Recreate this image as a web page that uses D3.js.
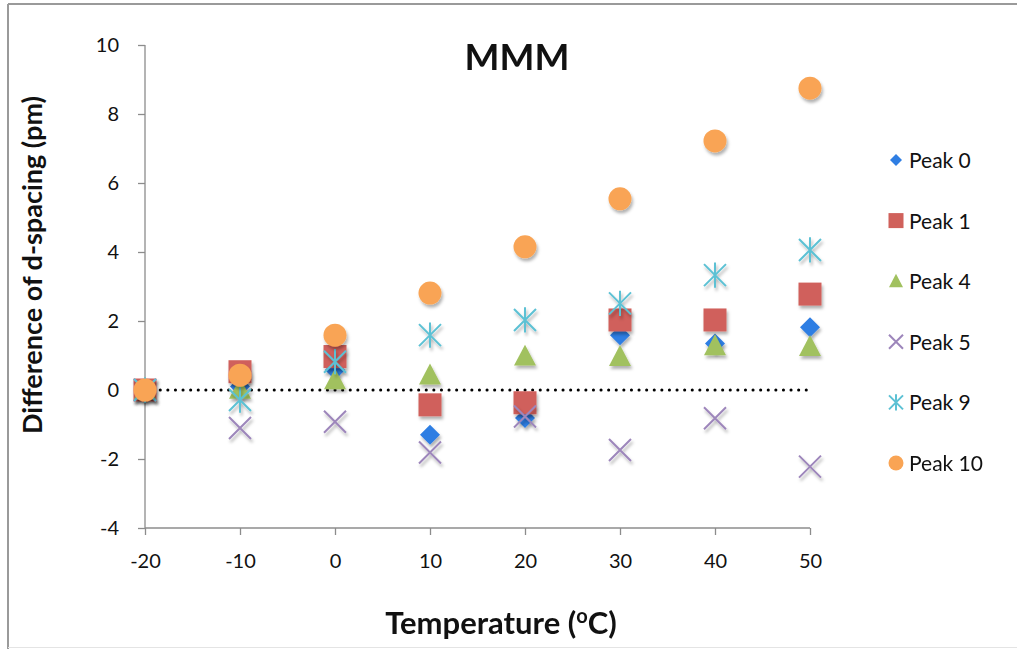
<!DOCTYPE html>
<html>
<head>
<meta charset="utf-8">
<script src="https://cdn.jsdelivr.net/npm/d3@7"></script>
<style>
  html, body { margin: 0; padding: 0; background: #fff; }
  svg { display: block; }
  text { font-family: Lato, "Open Sans", sans-serif; fill: #111; }
</style>
</head>
<body>
<svg id="chart" width="1017" height="649"></svg>
<script>
// ---- data ----
const temperatures = [-20, -10, 0, 10, 20, 30, 40, 50];
const peak0  = [0, 0.10, 0.58, -1.30, -0.81, 1.59, 1.35, 1.82];
const peak1  = [0, 0.53, 0.97, -0.43, -0.37, 2.03, 2.03, 2.78];
const peak4  = [0, 0.02, 0.29, 0.43, 0.98, 0.97, 1.28, 1.26];
const peak5  = [0, -1.10, -0.92, -1.81, -0.77, -1.74, -0.82, -2.22];
const peak9  = [0, -0.29, 0.82, 1.59, 2.03, 2.51, 3.33, 4.06];
const peak10 = [0, 0.43, 1.59, 2.81, 4.15, 5.54, 7.22, 8.75];
const seriesNames = ["Peak 0", "Peak 1", "Peak 4", "Peak 5", "Peak 9", "Peak 10"];
const seriesValues = [peak0, peak1, peak4, peak5, peak9, peak10];
const seriesShapes = ["diamond", "square", "triangle", "x", "star", "circle"];
const seriesColors = ["#2f7ee3", "#d0615b", "#a1c15f", "#9d86bb", "#5cc1d4", "#f9a454"];
const xTicks = [-20, -10, 0, 10, 20, 30, 40, 50];
const yTicks = [-4, -2, 0, 2, 4, 6, 8, 10];
const zeroLine = [[-20, 0], [50, 0]];

// ---- layout ----
const svg = d3.select("#chart");
const x = d3.scaleLinear().domain([-20, 50]).range([145, 810]);
const y = d3.scaleLinear().domain([-4, 10]).range([528, 45]);
const fmt = d => String(d); // plain hyphen-minus like the reference

// outer frame
svg.append("line").attr("x1", 8).attr("x2", 1017).attr("y1", 4).attr("y2", 4)
  .attr("stroke", "#9a9a9a").attr("stroke-width", 2);
svg.append("line").attr("x1", 8).attr("x2", 8).attr("y1", 4).attr("y2", 649)
  .attr("stroke", "#9a9a9a").attr("stroke-width", 2);
svg.append("line").attr("x1", 8).attr("x2", 1017).attr("y1", 647.5).attr("y2", 647.5)
  .attr("stroke", "#e4e4e4").attr("stroke-width", 1);

// drop shadow
const defs = svg.append("defs");
const f = defs.append("filter").attr("id", "shadow").attr("x", "-50%").attr("y", "-50%")
  .attr("width", "200%").attr("height", "200%");
f.append("feDropShadow").attr("dx", 1.5).attr("dy", 3).attr("stdDeviation", 1.8)
  .attr("flood-color", "#000").attr("flood-opacity", 0.3);

// axes
const axisColor = "#8c8c8c";
const yAxis = svg.append("g").attr("transform", `translate(${x(-20)},0)`)
  .call(d3.axisLeft(y).tickValues(yTicks).tickSize(7).tickPadding(19).tickFormat(fmt));
const xAxis = svg.append("g").attr("transform", `translate(0,${y(-4)})`)
  .call(d3.axisBottom(x).tickValues(xTicks).tickSize(7).tickPadding(19).tickFormat(fmt));
[xAxis, yAxis].forEach(g => {
  g.select(".domain").attr("stroke", axisColor).attr("stroke-width", 1.3);
  g.selectAll(".tick line").attr("stroke", axisColor).attr("stroke-width", 1.3);
  g.selectAll(".tick text").attr("font-size", 20).attr("fill", "#111")
    .attr("font-family", "Lato, 'Open Sans', sans-serif");
});
yAxis.select(".domain").attr("d", `M0,${y(10)}V${y(-4)}`);
xAxis.select(".domain").attr("d", `M${x(-20)},0H${x(50)}`);

// zero dotted line
svg.append("path")
  .attr("d", d3.line().x(d => x(d[0])).y(d => y(d[1]))(zeroLine))
  .attr("stroke", "#000").attr("stroke-width", 3)
  .attr("stroke-dasharray", "0.1 7.5").attr("stroke-linecap", "round").attr("fill", "none");

// marker drawing
function drawMarker(g, shape, color, size) {
  const s = size / 2;
  if (shape === "diamond") {
    g.append("path").attr("d", `M0,${-s}L${s},0L0,${s}L${-s},0Z`).attr("fill", color);
  } else if (shape === "square") {
    g.append("rect").attr("x", -s).attr("y", -s).attr("width", size).attr("height", size).attr("fill", color);
  } else if (shape === "triangle") {
    g.append("path").attr("d", `M0,${-s * 1.05}L${s},${s * 0.85}L${-s},${s * 0.85}Z`).attr("fill", color);
  } else if (shape === "circle") {
    g.append("circle").attr("r", s).attr("fill", color);
  } else if (shape === "x") {
    g.append("path").attr("d", `M${-s},${-s}L${s},${s}M${-s},${s}L${s},${-s}`)
      .attr("stroke", color).attr("stroke-width", 2).attr("fill", "none");
  } else if (shape === "star") {
    g.append("path").attr("d", `M${-s},${-s}L${s},${s}M${-s},${s}L${s},${-s}M0,${-s * 1.15}L0,${s * 1.15}`)
      .attr("stroke", color).attr("stroke-width", 2).attr("fill", "none");
  }
}
const markerSize = { diamond: 20, square: 23, triangle: 22, x: 22, star: 22, circle: 23 };

seriesValues.forEach((vals, i) => {
  const g = svg.append("g").attr("class", "series").attr("filter", "url(#shadow)");
  vals.forEach((v, j) => {
    const m = g.append("g").attr("transform", `translate(${x(temperatures[j])},${y(v)})`);
    drawMarker(m, seriesShapes[i], seriesColors[i], markerSize[seriesShapes[i]]);
  });
});

// legend
const legendSize = { diamond: 12, square: 15, triangle: 14, x: 14, star: 14, circle: 15 };
const legend = svg.append("g");
seriesNames.forEach((name, i) => {
  const yy = 160 + i * 60.6;
  const m = legend.append("g").attr("transform", `translate(896,${yy})`);
  drawMarker(m, seriesShapes[i], seriesColors[i], legendSize[seriesShapes[i]]);
  legend.append("text").attr("x", 909).attr("y", yy + 8).attr("font-size", 21).text(name);
});

// titles
svg.append("text").attr("x", 517).attr("y", 70).attr("text-anchor", "middle")
  .attr("font-size", 37).attr("font-weight", "bold").text("MMM");

const xt = svg.append("text").attr("x", 501).attr("y", 634).attr("text-anchor", "middle")
  .attr("font-size", 31).attr("font-weight", "bold");
xt.append("tspan").text("Temperature (");
xt.append("tspan").attr("font-size", 20).attr("dy", -11).text("o");
xt.append("tspan").attr("dy", 11).text("C)");

svg.append("text").attr("transform", "translate(42,265) rotate(-90)").attr("text-anchor", "middle")
  .attr("font-size", 27).attr("font-weight", "bold").text("Difference of d-spacing (pm)");
</script>
</body>
</html>
